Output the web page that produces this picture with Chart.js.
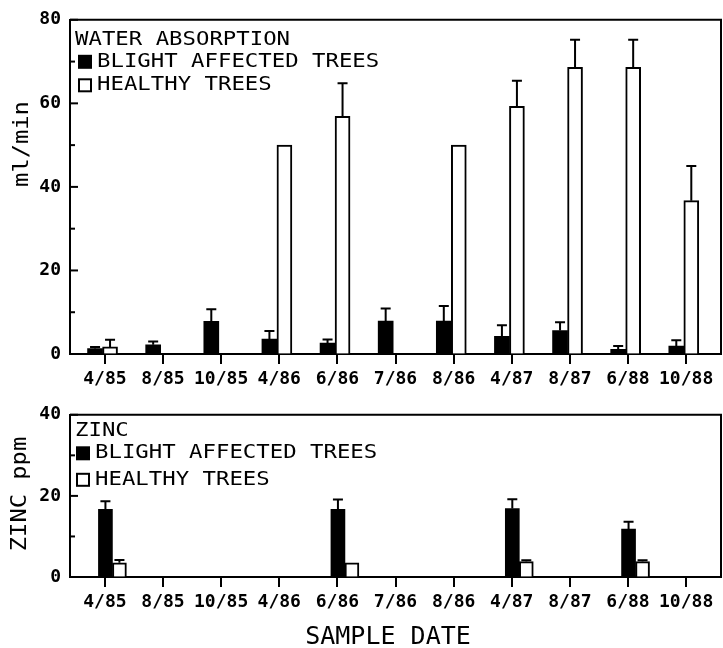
<!DOCTYPE html>
<html>
<head>
<meta charset="utf-8">
<script src="https://cdn.jsdelivr.net/npm/chart.js@4"></script>
<style>
    body { margin: 0; background: #fff; }
    #Page { position: relative; width: 723px; height: 648px; }
    #Page canvas { position: absolute; left: 0; }
</style>
</head>
<body>
<div id="Page">
    <canvas id="WaterGraph" width="723" height="395" style="top:0"></canvas>
    <canvas id="ZincGraph" width="723" height="253" style="top:395px"></canvas>
</div>
<script>
var sampleDates = ["4/85", "8/85", "10/85", "4/86", "6/86", "7/86", "8/86", "4/87", "8/87", "6/88", "10/88"];

var waterTicks = [0, 10, 20, 30, 40, 50, 60, 70, 80];
var waterBlight = [1.3, 2.2, 7.8, 3.6, 2.6, 7.9, 7.9, 4.2, 5.6, 1.1, 1.9];
var waterBlightErr = [0.4, 0.8, 2.9, 1.9, 0.9, 3.0, 3.6, 2.7, 2.0, 0.8, 1.4];
var waterHealthy = [1.7, null, null, 50, 56.9, null, 50, 59.3, 68.6, 68.6, 36.7];
var waterHealthyErr = [1.7, 0, 0, 0, 7.9, 0, 0, 6.1, 6.6, 6.6, 8.3];

var zincTicks = [0, 10, 20, 30, 40];
var zincBlight = [16.7, null, null, null, 16.7, null, null, 16.9, null, 11.8, null];
var zincBlightErr = [2.0, 0, 0, 0, 2.4, 0, 0, 2.3, 0, 1.8, 0];
var zincHealthy = [3.5, null, null, null, 3.5, null, null, 3.8, null, 3.8, null];
var zincHealthyErr = [0.7, 0, 0, 0, 0, 0, 0, 0.3, 0, 0.3, 0];

var MONO = '"DejaVu Sans Mono", "Liberation Mono", monospace';

function toPoints(values) {
    return values.map(function (v, i) { return { x: i, y: v }; });
}

// text in the old plotter look: monospace, stretched sideways
function wideText(ctx, text, x, y, size, stretch, angle) {
    ctx.save();
    ctx.translate(x, y);
    if (angle) ctx.rotate(angle);
    ctx.scale(stretch, 1);
    ctx.font = size + "px " + MONO;
    ctx.fillStyle = "#000";
    ctx.textBaseline = "middle";
    ctx.textAlign = angle ? "center" : "left";
    ctx.fillText(text, 0, 0);
    ctx.restore();
}

var panelPlugin = {
    id: "panel",
    afterDatasetsDraw: function (chart) {
        var ctx = chart.ctx, yScale = chart.scales.y;
        ctx.save();
        ctx.strokeStyle = "#000";
        ctx.lineWidth = 2;
        chart.data.datasets.forEach(function (ds, d) {
            chart.getDatasetMeta(d).data.forEach(function (bar, j) {
                var v = ds.data[j].y, e = ds.errors[j];
                if (v === null || !e) return;
                var top = yScale.getPixelForValue(v + e);
                ctx.beginPath();
                ctx.moveTo(bar.x, bar.y);
                ctx.lineTo(bar.x, top);
                ctx.moveTo(bar.x - 5, top);
                ctx.lineTo(bar.x + 5, top);
                ctx.stroke();
            });
        });
        ctx.restore();
    },
    afterDraw: function (chart) {
        var o = chart.options.plugins.panel;
        var ctx = chart.ctx, a = chart.chartArea, yScale = chart.scales.y;
        ctx.save();
        ctx.strokeStyle = "#000";
        ctx.lineWidth = 2;
        // frame top + right
        ctx.beginPath();
        ctx.moveTo(a.left, a.top);
        ctx.lineTo(a.right, a.top);
        ctx.lineTo(a.right, a.bottom);
        ctx.stroke();
        // inward y ticks
        yScale.ticks.forEach(function (t) {
            var y = yScale.getPixelForValue(t.value);
            ctx.beginPath();
            ctx.moveTo(a.left, y);
            ctx.lineTo(a.left + (t.value % 20 === 0 ? 8 : 5), y);
            ctx.stroke();
        });
        // legend
        var L = o.legend;
        wideText(ctx, L.title, a.left + L.textX0, a.top + L.rows[0], 19, 1.175);
        ctx.fillStyle = "#000";
        ctx.fillRect(a.left + L.boxX, a.top + L.rows[1] - 7, 14, 14);
        wideText(ctx, "BLIGHT AFFECTED TREES", a.left + L.textX, a.top + L.rows[1], 19, 1.175);
        ctx.strokeRect(a.left + L.boxX + 1, a.top + L.rows[2] - 6, 12, 12);
        wideText(ctx, "HEALTHY TREES", a.left + L.textX, a.top + L.rows[2], 19, 1.175);
        // axis titles
        wideText(ctx, o.yTitle.text, o.yTitle.x, o.yTitle.y, 22, 1.08, -Math.PI / 2);
        if (o.xTitle) {
            ctx.font = "25px " + MONO;
            ctx.fillStyle = "#000";
            ctx.textAlign = "center";
            ctx.textBaseline = "middle";
            ctx.fillText(o.xTitle.text, o.xTitle.x, o.xTitle.y);
        }
        ctx.restore();
    }
};

function buildPanel(canvasId, p) {
    var context = document.getElementById(canvasId).getContext("2d");
    return new Chart(context, {
        type: "bar",
        data: {
            datasets: [{
                label: "BLIGHT AFFECTED TREES",
                data: toPoints(p.blight),
                errors: p.blightErr,
                xAxisID: "xb",
                backgroundColor: "#000",
                borderColor: "#000",
                borderWidth: 0,
                barThickness: p.barWidth
            }, {
                label: "HEALTHY TREES",
                data: toPoints(p.healthy),
                errors: p.healthyErr,
                xAxisID: "xb",
                backgroundColor: "#fff",
                borderColor: "#000",
                borderWidth: 2,
                barThickness: p.barWidth
            }]
        },
        options: {
            responsive: false,
            animation: false,
            layout: { padding: { top: p.top, right: 2, left: 0, bottom: 0 } },
            plugins: {
                legend: { display: false },
                tooltip: { enabled: false },
                panel: p.panel
            },
            scales: {
                x: {
                    type: "linear",
                    offset: false,
                    min: -0.6,
                    max: 10.6,
                    afterBuildTicks: function (s) {
                        s.ticks = sampleDates.map(function (d, i) { return { value: i }; });
                    },
                    afterFit: function (s) { s.height = p.xHeight; },
                    ticks: {
                        autoSkip: false,
                        maxRotation: 0,
                        padding: 5,
                        color: "#000",
                        font: { family: MONO, size: 18, weight: "bold" },
                        callback: function (v) { return sampleDates[v]; }
                    },
                    grid: { offset: false, drawOnChartArea: false, tickLength: 10, color: "#000", lineWidth: 2 },
                    border: { color: "#000", width: 2 }
                },
                xb: {
                    type: "linear",
                    display: false,
                    offset: false,
                    grid: { offset: false },
                    min: -0.6 - p.shift,
                    max: 10.6 - p.shift
                },
                y: {
                    min: 0,
                    max: p.ticks[p.ticks.length - 1],
                    afterBuildTicks: function (s) {
                        s.ticks = p.ticks.map(function (v) { return { value: v }; });
                    },
                    afterFit: function (s) { s.width = 70; },
                    ticks: {
                        padding: 9,
                        color: "#000",
                        font: { family: MONO, size: 18, weight: "bold" },
                        callback: function (v) { return v % 20 === 0 ? v : ""; }
                    },
                    grid: { drawOnChartArea: false, drawTicks: false },
                    border: { color: "#000", width: 2 }
                }
            }
        },
        plugins: [panelPlugin]
    });
}

function setupWaterGraph() {
    buildPanel("WaterGraph", {
        blight: waterBlight, blightErr: waterBlightErr,
        healthy: waterHealthy, healthyErr: waterHealthyErr,
        ticks: waterTicks, top: 18, xHeight: 41, barWidth: 15, shift: -0.04,
        panel: {
            legend: { title: "WATER ABSORPTION", textX0: 5, textX: 27, boxX: 8, rows: [20.5, 42, 65.5] },
            yTitle: { text: "ml/min", x: 22, y: 144 }
        }
    });
}

function setupZincGraph() {
    buildPanel("ZincGraph", {
        blight: zincBlight, blightErr: zincBlightErr,
        healthy: zincHealthy, healthyErr: zincHealthyErr,
        ticks: zincTicks, top: 12, xHeight: 71, barWidth: 14, shift: 0.13,
        panel: {
            legend: { title: "ZINC", textX0: 5, textX: 25, boxX: 6, rows: [16, 38.5, 65] },
            yTitle: { text: "ZINC ppm", x: 20, y: 99 },
            xTitle: { text: "SAMPLE DATE", x: 388, y: 242.5 }
        }
    });
}

setupWaterGraph();
setupZincGraph();
</script>
</body>
</html>
